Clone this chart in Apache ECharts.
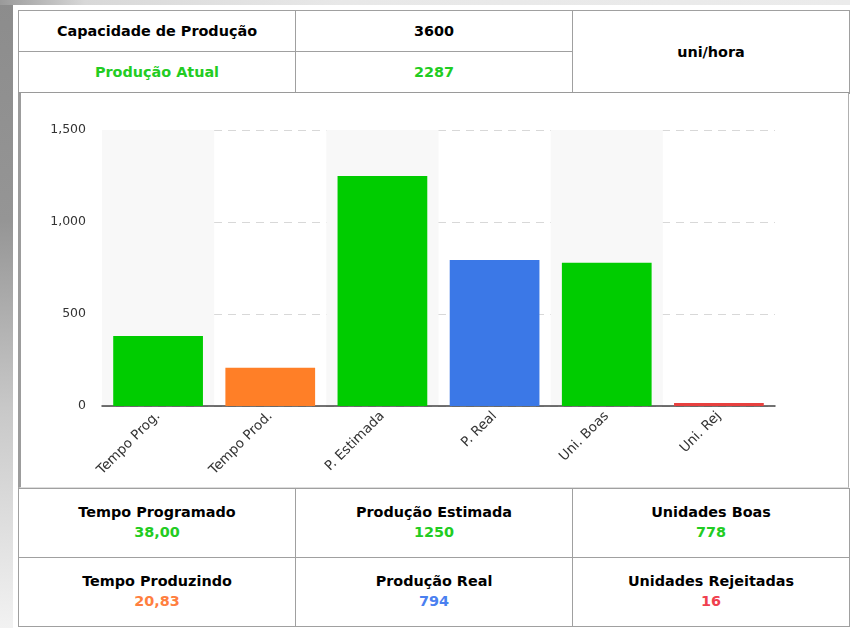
<!DOCTYPE html>
<html>
<head>
<meta charset="utf-8">
<script src="https://cdn.jsdelivr.net/npm/echarts@6/dist/echarts.min.js"></script>
<style>
  html, body { margin:0; padding:0; background:#fff; width:850px; height:628px; overflow:hidden; }
  body { position:relative; font-family:"DejaVu Sans", Verdana, sans-serif; }
  #leftStrip { position:absolute; left:0; top:0; width:13px; height:628px;
    background:linear-gradient(to bottom, #8c8c8c 0%, #959595 35%, #c8c8c8 65%, #f2f2f2 100%); }
  #topStrip { position:absolute; left:0; top:0; width:850px; height:5px;
    background:linear-gradient(to right, #9a9a9a 0%, #d8d8d8 10%, #e8e8e8 40%, #ebebeb 100%); }
  table.box { position:absolute; left:18px; width:831px; border-collapse:collapse; table-layout:fixed; }
  table.box td { border:1px solid #a0a0a0; text-align:center; vertical-align:middle; padding:0;
    font-weight:bold; font-size:14.4px; color:#000; line-height:20px; }
  #topTable { top:10px; height:83px; border-bottom:2px solid #9a9a9a; }
  #topTable td { height:40px; }
  #panel { position:absolute; left:18px; top:93px; width:827px; height:394px;
    border-left:3px solid #9c9c9c; border-right:1px solid #b0b0b0; border-bottom:1px solid #ddd; background:#fff; }
  #chart { position:absolute; left:21px; top:94px; width:826px; height:393px; }
  #bottomTable { top:488px; height:139px; }
  #bottomTable td { height:68px; }
  #bottomTable td div:first-child { margin-top:-2px; }
</style>
</head>
<body>
<div id="leftStrip"></div>
<div id="topStrip"></div>
<table class="box" id="topTable">
  <colgroup><col style="width:277px"><col style="width:277px"><col style="width:277px"></colgroup>
  <tr><td id="capLabel"></td><td id="capValue"></td><td rowspan="2" id="unitCell"></td></tr>
  <tr><td id="curLabel"></td><td id="curValue"></td></tr>
</table>
<div id="panel"></div>
<div id="chart"></div>
<table class="box" id="bottomTable">
  <colgroup><col style="width:277px"><col style="width:277px"><col style="width:277px"></colgroup>
  <tr><td id="s0"></td><td id="s1"></td><td id="s2"></td></tr>
  <tr><td id="s3"></td><td id="s4"></td><td id="s5"></td></tr>
</table>
<script>
// ---- data ----
const capacityLabel = 'Capacidade de Produção';
const capacityValue = '3600';
const currentLabel = 'Produção Atual';
const currentValue = '2287';
const unitLabel = 'uni/hora';

const categories = ['Tempo Prog.', 'Tempo Prod.', 'P. Estimada', 'P. Real', 'Uni. Boas', 'Uni. Rej'];
const values = [380, 208.3, 1250, 794, 778, 16];

const statTitles = ['Tempo Programado', 'Produção Estimada', 'Unidades Boas', 'Tempo Produzindo', 'Produção Real', 'Unidades Rejeitadas'];
const statValues = ['38,00', '1250', '778', '20,83', '794', '16'];

const yMin = 0, yMax = 1500, yInterval = 500;

// ---- styles ----
const barColors = ['#00cc00', '#ff7f27', '#00cc00', '#3b78e7', '#00cc00', '#e8403f'];
const statColors = ['#22cc22', '#22cc22', '#22cc22', '#ff7f3f', '#4a80f0', '#f0404e'];
const greenText = '#22cc22';

document.getElementById('capLabel').textContent = capacityLabel;
document.getElementById('capValue').textContent = capacityValue;
const cl = document.getElementById('curLabel'); cl.textContent = currentLabel; cl.style.color = greenText;
const cv = document.getElementById('curValue'); cv.textContent = currentValue; cv.style.color = greenText;
document.getElementById('unitCell').textContent = unitLabel;
for (let i = 0; i < statTitles.length; i++) {
  const td = document.getElementById('s' + i);
  const t = document.createElement('div'); t.textContent = statTitles[i];
  const v = document.createElement('div'); v.textContent = statValues[i]; v.style.color = statColors[i];
  td.appendChild(t); td.appendChild(v);
}

const chart = echarts.init(document.getElementById('chart'), null, { renderer: 'canvas' });
chart.setOption({
  animation: false,
  grid: { left: 81, top: 36, width: 673, height: 276 },
  xAxis: {
    type: 'category',
    data: categories,
    axisLine: { lineStyle: { color: '#444', width: 1.5 } },
    axisTick: { alignWithLabel: true, length: 5, lineStyle: { color: '#444' } },
    axisLabel: { rotate: 45, color: '#333', fontSize: 13.5, fontFamily: 'DejaVu Sans', margin: 8 },
    splitArea: { show: true, areaStyle: { color: ['#f8f8f8', 'rgba(255,255,255,0)'] } }
  },
  yAxis: {
    type: 'value',
    min: yMin, max: yMax, interval: yInterval,
    axisLine: { show: false },
    axisTick: { show: false },
    axisLabel: { color: '#333', fontSize: 12.5, fontFamily: 'DejaVu Sans', margin: 16,
      formatter: v => v.toLocaleString('en-US') },
    splitLine: { lineStyle: { color: '#d8d8d8', type: [8, 6] } }
  },
  series: [{
    type: 'bar',
    data: values.map((v, i) => ({ value: v, itemStyle: { color: barColors[i] } })),
    barCategoryGap: '20%'
  }]
});
</script>
</body>
</html>
